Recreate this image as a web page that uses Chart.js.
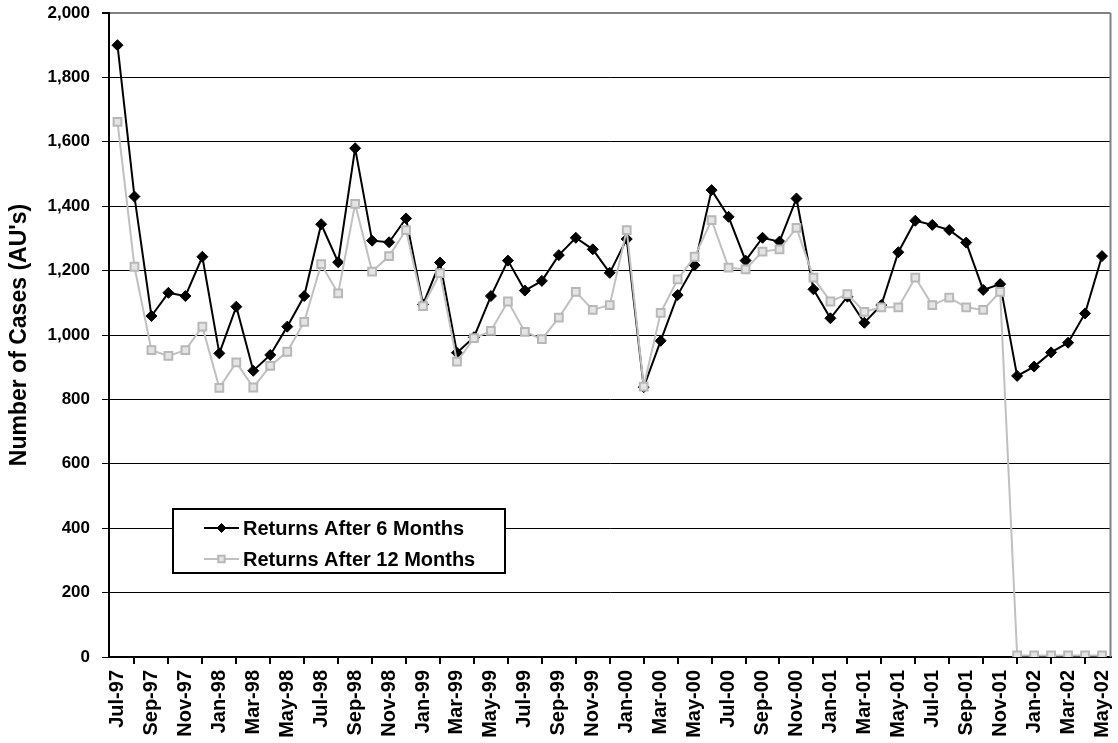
<!DOCTYPE html>
<html>
<head>
<meta charset="utf-8">
<script src="https://cdn.jsdelivr.net/npm/chart.js@4/dist/chart.umd.min.js"></script>
<style>
  html, body { margin: 0; padding: 0; background: #fff; }
  #wrap { width: 1118px; height: 743px; }
</style>
</head>
<body>
<div id="wrap"><canvas id="chart" width="1118" height="743"></canvas></div>
<script>
const months = [
  'Jul-97', 'Aug-97', 'Sep-97', 'Oct-97', 'Nov-97', 'Dec-97',
  'Jan-98', 'Feb-98', 'Mar-98', 'Apr-98', 'May-98', 'Jun-98', 'Jul-98', 'Aug-98', 'Sep-98', 'Oct-98', 'Nov-98', 'Dec-98',
  'Jan-99', 'Feb-99', 'Mar-99', 'Apr-99', 'May-99', 'Jun-99', 'Jul-99', 'Aug-99', 'Sep-99', 'Oct-99', 'Nov-99', 'Dec-99',
  'Jan-00', 'Feb-00', 'Mar-00', 'Apr-00', 'May-00', 'Jun-00', 'Jul-00', 'Aug-00', 'Sep-00', 'Oct-00', 'Nov-00', 'Dec-00',
  'Jan-01', 'Feb-01', 'Mar-01', 'Apr-01', 'May-01', 'Jun-01', 'Jul-01', 'Aug-01', 'Sep-01', 'Oct-01', 'Nov-01', 'Dec-01',
  'Jan-02', 'Feb-02', 'Mar-02', 'Apr-02', 'May-02'
];

const after6 = [
  1900, 1430, 1059, 1131, 1121, 1243,
  943, 1088, 889, 938, 1026, 1121, 1344, 1226, 1580, 1293, 1288, 1362,
  1095, 1225, 945, 993, 1121, 1231, 1138, 1168, 1248, 1302, 1266, 1193,
  1298, 838, 982, 1124, 1217, 1450, 1367, 1231, 1302, 1290, 1424, 1142,
  1052, 1119, 1038, 1093, 1257, 1355, 1342, 1326, 1287, 1140, 1158, 873,
  902, 946, 976, 1067, 1245
];

const after12 = [
  1662, 1212, 953, 935, 953, 1026,
  836, 915, 837, 904, 948, 1041, 1220, 1129, 1407, 1197, 1245, 1326,
  1090, 1192, 917, 990, 1013, 1104, 1010, 987, 1054, 1134, 1078, 1093,
  1326, 840, 1069, 1173, 1243, 1357, 1209, 1204, 1259, 1266, 1333, 1178,
  1104, 1127, 1072, 1086, 1086, 1178, 1093, 1116, 1086, 1078, 1134, 5,
  5, 5, 5, 5, 5
];

const seriesNames = ['Returns After 6 Months', 'Returns After 12 Months'];

const FONT = "'Liberation Sans', Arial, sans-serif";

// legend box drawn inside the plot, like the original
const boxLegend = {
  id: 'boxLegend',
  afterDraw(chart) {
    const ctx = chart.ctx;
    const x0 = 173, y0 = 509, w = 332, h = 64;
    ctx.save();
    ctx.fillStyle = '#fff';
    ctx.fillRect(x0, y0, w, h);
    ctx.strokeStyle = '#000';
    ctx.lineWidth = 2;
    ctx.strokeRect(x0, y0, w, h);
    ctx.font = 'bold 20px ' + FONT;
    ctx.textBaseline = 'middle';
    chart.data.datasets.forEach((ds, i) => {
      const y = y0 + 19 + i * 31;
      ctx.strokeStyle = ds.borderColor;
      ctx.lineWidth = 2;
      ctx.beginPath();
      ctx.moveTo(204, y);
      ctx.lineTo(239, y);
      ctx.stroke();
      ctx.fillStyle = ds.pointBackgroundColor;
      ctx.strokeStyle = ds.pointBorderColor;
      ctx.lineWidth = ds.pointBorderWidth;
      Chart.helpers.drawPoint(ctx, { pointStyle: ds.pointStyle, radius: ds.pointRadius - 1, borderWidth: ds.pointBorderWidth }, 221.5, y);
      ctx.fillStyle = '#000';
      ctx.fillText(ds.label, 243, y + 1);
    });
    ctx.restore();
  }
};

const rightBorder = {
  id: 'rightBorder',
  beforeDatasetsDraw(chart) {
    const { ctx, chartArea } = chart;
    ctx.save();
    ctx.strokeStyle = '#808080';
    ctx.lineWidth = 2;
    ctx.beginPath();
    ctx.moveTo(chartArea.right, chartArea.top);
    ctx.lineTo(chartArea.right, chartArea.bottom);
    ctx.stroke();
    ctx.restore();
  }
};

new Chart(document.getElementById('chart'), {
  type: 'line',
  data: {
    labels: months,
    datasets: [
      {
        label: seriesNames[0],
        data: after6,
        borderColor: '#000',
        borderWidth: 2,
        pointStyle: 'rectRot',
        pointRadius: 5.5,
        pointBackgroundColor: '#000',
        pointBorderColor: '#000',
        pointBorderWidth: 1,
        tension: 0,
        order: 2
      },
      {
        label: seriesNames[1],
        data: after12,
        borderColor: '#c0c0c0',
        borderWidth: 2,
        pointStyle: 'rect',
        pointRadius: 5.5,
        pointBackgroundColor: '#e4e4e4',
        pointBorderColor: '#b8b8b8',
        pointBorderWidth: 2,
        tension: 0,
        order: 1
      }
    ]
  },
  options: {
    responsive: false,
    animation: false,
    layout: { padding: { top: 13, right: 5, left: 0, bottom: 0 } },
    plugins: {
      legend: { display: false },
      tooltip: { enabled: false }
    },
    scales: {
      x: {
        offset: true,
        grid: {
          offset: true,
          drawOnChartArea: false,
          tickLength: 7,
          color: '#000',
          lineWidth: 2
        },
        border: { color: '#000', width: 2 },
        ticks: {
          autoSkip: false,
          minRotation: 90,
          maxRotation: 90,
          padding: 6,
          color: '#000',
          font: { family: FONT, size: 20, weight: 'bold' },
          callback: function (v, i) {
            return i % 2 === 0 ? this.getLabelForValue(v) : null;
          }
        },
        afterFit: s => {
          s.height = 86;
          s.paddingLeft = 0;
          s.paddingRight = 0;
        }
      },
      y: {
        min: 0,
        max: 2000,
        ticks: {
          stepSize: 200,
          padding: 12,
          color: '#000',
          font: { family: FONT, size: 17, weight: 'bold' },
          callback: v => v.toLocaleString('en-US')
        },
        grid: {
          color: c => (c.tick && c.tick.value === 2000 ? '#808080' : '#000'),
          lineWidth: c => (c.tick && c.tick.value === 2000 ? 2 : 1),
          tickColor: '#000',
          tickLength: 7
        },
        border: { color: '#000', width: 2 },
        title: {
          display: true,
          text: "Number of Cases (AU's)",
          color: '#000',
          font: { family: FONT, size: 23, weight: 'bold' },
          padding: { top: 6, bottom: 0 }
        },
        afterFit: s => {
          s.width = 109;
          s.paddingTop = 0;
          s.paddingBottom = 0;
        }
      }
    }
  },
  plugins: [rightBorder, boxLegend]
});
</script>
</body>
</html>
